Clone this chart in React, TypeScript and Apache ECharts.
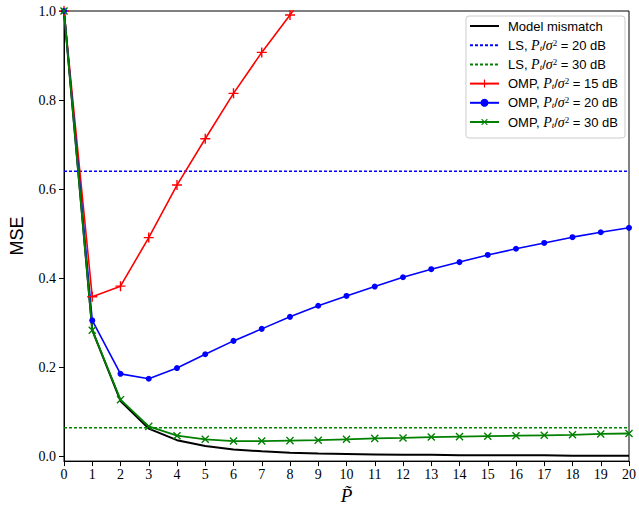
import React, { useEffect, useRef } from "react";
import * as echarts from "echarts";

const xValues = [0, 1, 2, 3, 4, 5, 6, 7, 8, 9, 10, 11, 12, 13, 14, 15, 16, 17, 18, 19, 20];
const modelMismatch = [1.0, 0.283, 0.124, 0.062, 0.036, 0.023, 0.015, 0.011, 0.008, 0.006, 0.005, 0.004, 0.003, 0.003, 0.002, 0.002, 0.002, 0.002, 0.001, 0.001, 0.001];
const lsLevel20 = 0.64;
const lsLevel30 = 0.064;
const omp15 = [1.0, 0.358, 0.382, 0.491, 0.609, 0.713, 0.815, 0.907, 0.991, 1.08];
const omp20 = [1.0, 0.305, 0.185, 0.174, 0.198, 0.229, 0.259, 0.286, 0.313, 0.338, 0.36, 0.381, 0.402, 0.42, 0.436, 0.452, 0.466, 0.479, 0.492, 0.503, 0.513];
const omp30 = [1.0, 0.283, 0.127, 0.067, 0.046, 0.038, 0.034, 0.034, 0.035, 0.036, 0.038, 0.04, 0.041, 0.043, 0.044, 0.045, 0.046, 0.047, 0.048, 0.05, 0.051];
const yTicks = [0, 0.2, 0.4, 0.6, 0.8, 1.0];

const seriesNames = [
  "Model mismatch",
  "LS, 20",
  "LS, 30",
  "OMP, 15",
  "OMP, 20",
  "OMP, 30",
];

const PLUS = "path://M4.3,0H5.7V4.3H10V5.7H5.7V10H4.3V5.7H0V4.3H4.3Z";

function pairs(vals: number[]) {
  return vals.map((v, i) => [xValues[i], v]);
}

export default function App() {
  const ref = useRef<HTMLDivElement>(null);
  useEffect(() => {
    document.body.style.margin = "0";
    const chart = echarts.init(ref.current!, null, { renderer: "svg" });
    const legendLabel = (name: string) => {
      if (name === "Model mismatch") return `{g| }${name}`;
      const [head, db] = name.split(", ");
      return `{g| }${head}, {i|P}{sub|t}{n|/}{i|σ}{sup|2}{n| = ${db} dB}`;
    };
    const hidden = { color: "rgba(0,0,0,0)", borderWidth: 0 };
    chart.setOption({
      animation: false,
      grid: {
        left: 62,
        right: 7,
        top: 11,
        bottom: 42,
        show: true,
        borderColor: "#000",
        borderWidth: 1,
        backgroundColor: "transparent",
      },
      legend: {
        orient: "vertical",
        right: 14,
        top: 16,
        padding: [3, 7, 9, 3],
        borderColor: "#cccccc",
        borderWidth: 1,
        borderRadius: 3,
        backgroundColor: "#ffffff",
        itemWidth: 29,
        itemHeight: 10,
        itemGap: 5.2,
        data: [
          { name: seriesNames[0], itemStyle: hidden },
          { name: seriesNames[1], itemStyle: hidden },
          { name: seriesNames[2], itemStyle: hidden },
          { name: seriesNames[3] },
          { name: seriesNames[4] },
          { name: seriesNames[5] },
        ],
        formatter: legendLabel,
        textStyle: {
          fontFamily: "Liberation Sans",
          fontSize: 13,
          color: "#000",
          lineHeight: 14,
          rich: {
            g: { width: 4, fontSize: 13 },
            i: { fontFamily: "Liberation Serif", fontStyle: "italic", fontSize: 14, color: "#000" },
            n: { fontFamily: "Liberation Sans", fontSize: 13, color: "#000" },
            sub: { fontFamily: "Liberation Serif", fontStyle: "italic", fontSize: 9, verticalAlign: "bottom", color: "#000" },
            sup: { fontFamily: "Liberation Serif", fontSize: 9, verticalAlign: "top", color: "#000" },
          },
        },
      },
      xAxis: {
        type: "value",
        min: 0,
        max: 20,
        interval: 1,
        name: "P\u0303",
        nameLocation: "middle",
        nameGap: 20,
        nameTextStyle: { fontFamily: "Liberation Serif", fontStyle: "italic", fontSize: 19, color: "#000" },
        axisLine: { onZero: false, lineStyle: { color: "#000", width: 1 } },
        axisTick: { inside: false, length: 5, lineStyle: { color: "#000" } },
        axisLabel: { fontFamily: "Liberation Serif", fontSize: 14, color: "#000", margin: 6 },
        splitLine: { show: false },
      },
      yAxis: {
        type: "value",
        min: -0.011,
        max: 1.0,
        name: "MSE",
        nameLocation: "middle",
        nameGap: 38,
        nameRotate: 90,
        nameTextStyle: { fontFamily: "Liberation Sans", fontSize: 18, color: "#000" },
        axisLine: { onZero: false, lineStyle: { color: "#000", width: 1 } },
        axisTick: { inside: false, length: 5, customValues: yTicks, lineStyle: { color: "#000" } },
        axisLabel: {
          fontFamily: "Liberation Serif",
          fontSize: 14,
          color: "#000",
          margin: 8,
          customValues: yTicks,
          formatter: (v: number) => v.toFixed(1),
        },
        splitLine: { show: false },
      },
      series: [
        {
          name: seriesNames[0],
          type: "line",
          data: pairs(modelMismatch),
          showSymbol: false,
          symbol: "none",
          lineStyle: { color: "#000", width: 2 },
          itemStyle: { color: "#000" },
          clip: true,
        },
        {
          name: seriesNames[1],
          type: "line",
          data: [[xValues[0], lsLevel20], [xValues[xValues.length - 1], lsLevel20]],
          symbol: "none",
          lineStyle: { color: "#0000ff", width: 1.6, type: [3, 2] },
          itemStyle: { color: "#0000ff" },
        },
        {
          name: seriesNames[2],
          type: "line",
          data: [[xValues[0], lsLevel30], [xValues[xValues.length - 1], lsLevel30]],
          symbol: "none",
          lineStyle: { color: "#008000", width: 1.6, type: [3, 2] },
          itemStyle: { color: "#008000" },
        },
        {
          name: seriesNames[3],
          type: "line",
          data: pairs(omp15),
          symbol: PLUS,
          symbolSize: 10,
          lineStyle: { color: "#ff0000", width: 1.6 },
          itemStyle: { color: "#ff0000" },
          clip: true,
        },
        {
          name: seriesNames[4],
          type: "line",
          data: pairs(omp20),
          symbol: "circle",
          symbolSize: 6,
          lineStyle: { color: "#0000ff", width: 1.6 },
          itemStyle: { color: "#0000ff" },
          clip: true,
        },
        {
          name: seriesNames[5],
          type: "line",
          data: pairs(omp30),
          symbol: PLUS,
          symbolSize: 10,
          symbolRotate: 45,
          lineStyle: { color: "#008000", width: 1.8 },
          itemStyle: { color: "#008000" },
          clip: true,
        },
      ],
    });
    return () => chart.dispose();
  }, []);
  return <div ref={ref} style={{ width: 639, height: 510 }} />;
}
